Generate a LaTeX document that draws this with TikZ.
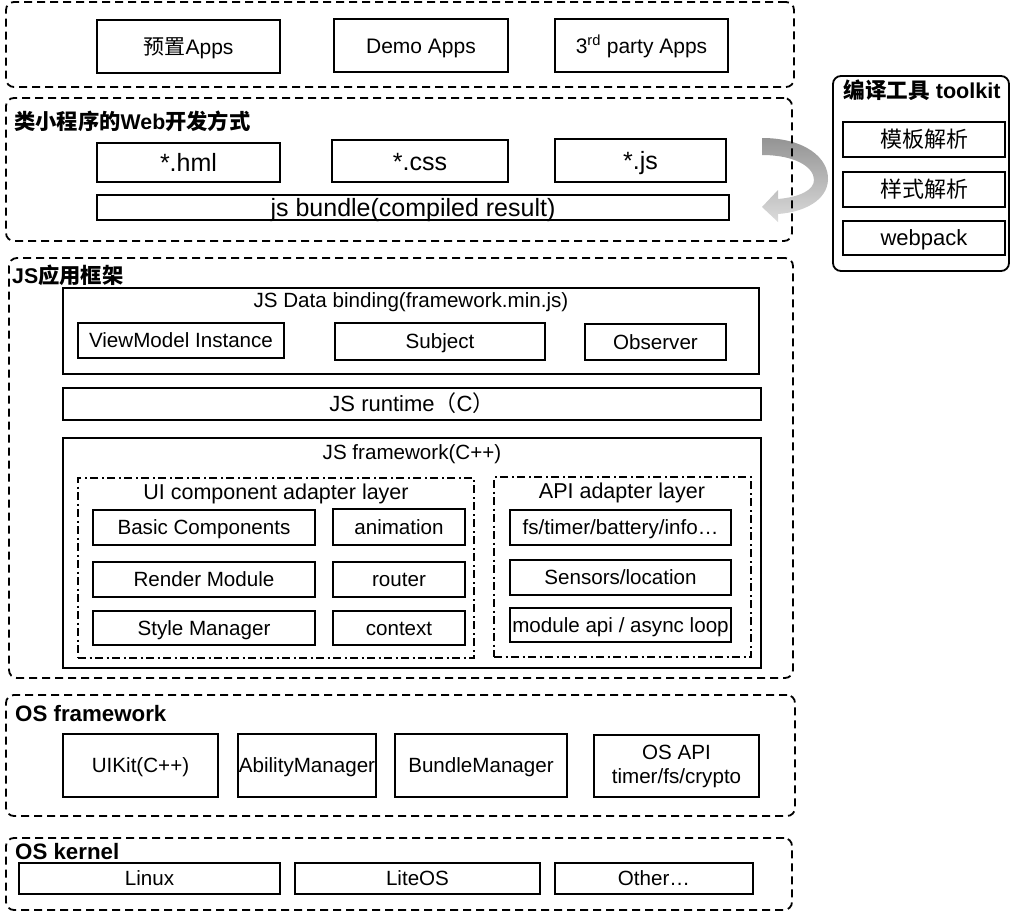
\documentclass[tikz,border=0pt]{standalone}
\usepackage{fontspec}
\setmainfont{Liberation Sans}
\newfontfamily\cjk{Noto Sans CJK SC}
\newcommand\bx[7][]{\node[#1, minimum width={#5-#3}, minimum height={#6-#4}] (#2) at ({(#3+#5)/2},{(#4+#6)/2}) {#7};}
\tikzset{
  plainbox/.style={draw, line width=1.6pt, inner sep=0pt, font=\fontsize{20.6}{24}\selectfont},
  box/.style={plainbox, text height=14.8pt, text depth=0pt},
  bigbox/.style={box, font=\fontsize{25}{28}\selectfont, text height=18pt},
  appbox/.style={box, font=\fontsize{21}{24}\selectfont, text height=15.1pt},
  midbox/.style={box, font=\fontsize{22}{24}\selectfont, text height=15.8pt},
  cjkbox/.style={draw, line width=1.6pt, inner sep=0pt, font=\cjk\fontsize{22}{24}\selectfont, text height=18pt, text depth=1.5pt},
  grp/.style={draw, line width=1.8pt, dash pattern=on 8pt off 5pt, rounded corners=8pt, inner sep=0pt},
  ddbox/.style={draw, line width=1.4pt, dash pattern=on 8pt off 3.5pt on 2pt off 3.5pt, inner sep=0pt},
  hd/.style={font=\bfseries\fontsize{21.3}{24}\selectfont, anchor=west, inner sep=0pt, text height=15.3pt, text depth=0pt},
  hdos/.style={hd, font=\bfseries\fontsize{22.3}{24}\selectfont, text height=16pt},
  ttl/.style={font=\fontsize{20.6}{24}\selectfont, inner sep=0pt, text height=14.8pt, text depth=0pt},
}
\begin{document}
\begin{tikzpicture}[x=1pt,y=-1pt]
\useasboundingbox (0,0) rectangle (1015,911);

% curved arrow
\shade[top color=black!42, bottom color=black!14]
  (762,138) .. controls (805,138) and (829,158) .. (828,180)
  .. controls (827,200) and (805,212) .. (778,214) -- (778,222) -- (762,207) -- (778,190) -- (778,199)
  .. controls (800,197) and (814,190) .. (814,180)
  .. controls (814,167) and (795,155) .. (762,155) -- cycle;

% top apps group
\bx[grp]{g1}{6}{2}{794}{87}{}
\bx[appbox]{a1}{97}{20}{280}{73}{{\cjk 预置}Apps}
\bx[appbox]{a2}{334}{19}{508}{72}{Demo Apps}
\bx[appbox]{a3}{555}{19}{728}{72}{3\textsuperscript{rd} party Apps}

% web dev group
\bx[grp]{g2}{6}{98}{792}{241}{}
\node[hd] (g2t) at (14,122) {{\cjk\bfseries 类小程序的}Web{\cjk\bfseries 开发方式}};
\bx[bigbox]{w1}{97}{143}{280}{182}{*.hml}
\bx[bigbox]{w2}{332}{140}{508}{182}{*.css}
\bx[bigbox]{w3}{555}{139}{726}{182}{*.js}
\bx[bigbox]{wb}{97}{195}{729}{220}{js bundle(compiled result)}

% toolkit
\bx[draw, line width=1.8pt, rounded corners=8pt, inner sep=0pt]{tk}{833}{76}{1009}{271}{}
\node[font=\bfseries\fontsize{21.6}{24}\selectfont, inner sep=0pt, text height=15.5pt, text depth=0pt] (tkt) at (922,91) {{\cjk\bfseries 编译工具} toolkit};
\bx[cjkbox]{t1}{843}{122}{1005}{157}{模板解析}
\bx[cjkbox]{t2}{843}{172}{1005}{207}{样式解析}
\bx[midbox]{t3}{843}{221}{1005}{255}{webpack}

% JS app framework
\bx[grp]{g3}{9}{258}{793}{678}{}
\node[hd] (g3t) at (12,276) {JS{\cjk\bfseries 应用框架}};
\bx[box]{db}{63}{288}{759}{374}{}
\node[ttl] (dbt) at (411,300) {JS Data binding(framework.min.js)};
\bx[box]{vm}{78}{323}{284}{358}{ViewModel Instance}
\bx[box]{sj}{335}{323}{545}{360}{Subject}
\bx[box]{ob}{585}{324}{726}{360}{Observer}
\bx[midbox]{rt}{63}{388}{761}{420}{JS runtime{\cjk （}C{\cjk ）}}
\bx[box]{fw}{63}{438}{761}{668}{}
\node[ttl] (fwt) at (412,452) {JS framework(C++)};

\bx[ddbox]{ui}{78}{478}{474}{658}{}
\node[ttl, font=\fontsize{21.5}{24}\selectfont, text height=15.4pt] (uit) at (276,492) {UI component adapter layer};
\bx[box]{bc}{93}{510}{315}{545}{Basic Components}
\bx[box]{an}{333}{509}{465}{545}{animation}
\bx[box]{rm}{93}{562}{315}{597}{Render Module}
\bx[box]{ro}{333}{562}{465}{597}{router}
\bx[box]{sm}{93}{611}{315}{645}{Style Manager}
\bx[box]{cx}{333}{611}{465}{645}{context}

\bx[ddbox]{api}{494}{477}{751}{657}{}
\node[ttl, font=\fontsize{21.5}{24}\selectfont, text height=15.4pt] (apit) at (622,491) {API adapter layer};
\bx[box]{f1}{510}{510}{731}{545}{fs/timer/battery/info…}
\bx[box]{f2}{510}{560}{731}{595}{Sensors/location}
\bx[box]{f3}{510}{608}{731}{642}{module api / async loop}

% OS framework
\bx[grp]{g4}{6}{695}{795}{816}{}
\node[hdos] (g4t) at (15,713) {OS framework};
\bx[box]{u1}{63}{734}{218}{797}{UIKit(C++)}
\bx[box]{u2}{238}{734}{376}{797}{AbilityManager}
\bx[box]{u3}{395}{734}{567}{797}{BundleManager}
\bx[plainbox, align=center]{u4}{594}{735}{759}{797}{OS API\\timer/fs/crypto}

% OS kernel
\bx[grp]{g5}{6}{838}{792}{910}{}
\node[hdos] (g5t) at (15,851) {OS kernel};
\bx[box]{k1}{19}{863}{280}{894}{Linux}
\bx[box]{k2}{295}{863}{540}{894}{LiteOS}
\bx[box]{k3}{555}{863}{753}{894}{Other…}
\end{tikzpicture}
\end{document}
